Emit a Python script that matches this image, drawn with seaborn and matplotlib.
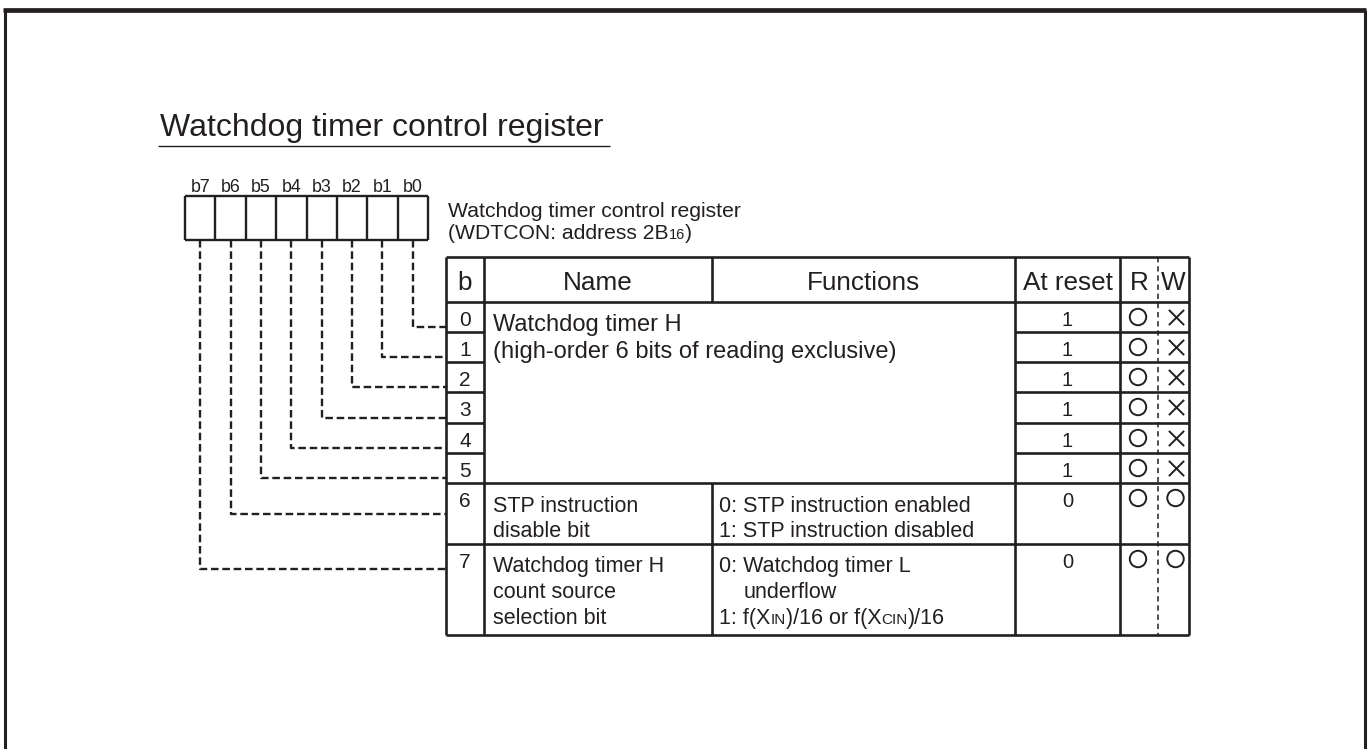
import matplotlib
matplotlib.use("Agg")
import matplotlib.pyplot as plt
import seaborn as sns
import pandas as pd

# ---------------- data ----------------
title = "Watchdog timer control register"
bit_labels = ["b7", "b6", "b5", "b4", "b3", "b2", "b1", "b0"]
reg_name = "Watchdog timer control register"
reg_addr_pre = "(WDTCON: address 2B"
reg_addr_sub = "16"
reg_addr_post = ")"
headers = ["b", "Name", "Functions", "At reset", "R", "W"]
bits = [0, 1, 2, 3, 4, 5, 6, 7]
name_0_5 = ["Watchdog timer H", "(high-order 6 bits of reading exclusive)"]
name_6 = ["STP instruction", "disable bit"]
name_7 = ["Watchdog timer H", "count source", "selection bit"]
func_6 = ["0: STP instruction enabled", "1: STP instruction disabled"]
func_7_line1 = "0: Watchdog timer L"
func_7_line2 = "underflow"
func_7_line3 = [("1: f(X", False), ("IN", True), (")/16 or f(X", False), ("CIN", True), (")/16", False)]
reset_vals = ["1", "1", "1", "1", "1", "1", "0", "0"]
r_marks = ["O", "O", "O", "O", "O", "O", "O", "O"]
w_marks = ["X", "X", "X", "X", "X", "X", "O", "O"]

# ---------------- layout ----------------
W, H = 1369, 749
INK = "#231f20"
sns.set_theme(style="white")
plt.rcParams["font.family"] = ["Liberation Sans", "DejaVu Sans"]

fig = plt.figure(figsize=(W / 100, H / 100), dpi=100)
ax = fig.add_axes([0, 0, 1, 1])
ax.set_xlim(0, W)
ax.set_ylim(H, 0)
ax.axis("off")
renderer = fig.canvas.get_renderer()


def line(xs, ys, lw=1.5, ls="-", color=INK):
    ax.plot(xs, ys, color=color, lw=lw, ls=ls, solid_capstyle="butt",
            dash_capstyle="butt")


def txt(x, y, s, size, ha="left"):
    return ax.text(x, y, s, fontsize=size, ha=ha, va="baseline", color=INK)


def runs(x, y, parts, size, small):
    for s, is_small in parts:
        t = txt(x, y, s, small if is_small else size)
        x += t.get_window_extent(renderer).width


# outer frame
line([3, 1366], [10, 10], lw=3.4)
line([4.5, 4.5], [10, H], lw=2.2)
line([1364.5, 1364.5], [10, H], lw=2.2)

# title
txt(160, 136, title, 23)
line([158, 610], [146, 146], lw=1.0)

# register bit boxes
bx0, bx1, by0, by1 = 185, 428, 196, 240
cw = (bx1 - bx0) / 8
for k, lab in enumerate(bit_labels):
    txt(bx0 + cw * (k + 0.5), 192, lab, 12.8, ha="center")
for k in range(9):
    line([bx0 + cw * k] * 2, [by0, by1], lw=1.7)
line([bx0, bx1], [by0, by0], lw=1.7)
line([bx0, bx1], [by1, by1], lw=1.7)

runs(448, 217, [(reg_name, False)], 15.2, 10.5)
runs(448, 239, [(reg_addr_pre, False), (reg_addr_sub, True), (reg_addr_post, False)], 15.2, 10.5)

# table geometry
xc = [446, 484, 712, 1015, 1120, 1158, 1189]
yr = [257, 302, 332, 362, 392, 423, 453, 483, 544, 635]
TL = 1.9

# header
hx = [(xc[0] + xc[1]) / 2, (xc[1] + xc[2]) / 2, (xc[2] + xc[3]) / 2,
      (xc[3] + xc[4]) / 2, (xc[4] + xc[5]) / 2, (xc[5] + xc[6]) / 2]
for hxi, h in zip(hx, headers):
    txt(hxi, 290, h, 18.8, ha="center")

# outer box
line([xc[0], xc[6]], [yr[0], yr[0]], lw=TL)
line([xc[0], xc[6]], [yr[-1], yr[-1]], lw=TL)
line([xc[0], xc[0]], [yr[0], yr[-1]], lw=TL)
line([xc[6], xc[6]], [yr[0], yr[-1]], lw=TL)
# vertical dividers
line([xc[1], xc[1]], [yr[0], yr[-1]], lw=TL)
line([xc[3], xc[3]], [yr[0], yr[-1]], lw=TL)
line([xc[4], xc[4]], [yr[0], yr[-1]], lw=TL)
line([xc[2], xc[2]], [yr[0], yr[1]], lw=TL)
line([xc[2], xc[2]], [yr[7], yr[-1]], lw=TL)
line([xc[5], xc[5]], [yr[0], yr[-1]], lw=1.1, ls=(0, (3.5, 2.5)))
# horizontal rules
line([xc[0], xc[6]], [yr[1], yr[1]], lw=TL)
for j in range(2, 7):
    line([xc[0], xc[1]], [yr[j], yr[j]], lw=TL)
    line([xc[3], xc[6]], [yr[j], yr[j]], lw=TL)
for j in (7, 8):
    line([xc[0], xc[6]], [yr[j], yr[j]], lw=TL)

# bit numbers and reset values
for i, b in enumerate(bits):
    top = yr[1 + i]
    txt((xc[0] + xc[1]) / 2, top + 24, str(b), 15, ha="center")
    txt((xc[3] + xc[4]) / 2, top + 24, reset_vals[i], 14.5, ha="center")

# names / functions
txt(493, 331, name_0_5[0], 17)
txt(493, 358, name_0_5[1], 17)
for k, s in enumerate(name_6):
    txt(493, 512 + 25 * k, s, 15.5)
for k, s in enumerate(func_6):
    txt(719, 512 + 25 * k, s, 15.5)
for k, s in enumerate(name_7):
    txt(493, 572 + 26 * k, s, 15.5)
txt(719, 572, func_7_line1, 15.5)
txt(744, 598, func_7_line2, 15.5)
runs(719, 624, func_7_line3, 15.5, 11)

# R / W marks
rows_y = [yr[1 + i] + 15 for i in range(8)]
rx = (xc[4] + xc[5]) / 2 - 1
wx = (xc[5] + xc[6]) / 2 + 2
marks = pd.DataFrame({
    "x": [rx] * 8 + [wx] * 8,
    "y": rows_y + rows_y,
    "m": r_marks + w_marks,
})
circ = marks[marks.m == "O"]
cross = marks[marks.m == "X"]
sns.scatterplot(data=circ, x="x", y="y", ax=ax, marker="o", s=140,
                facecolors="none", edgecolor=INK, linewidth=1.4, legend=False)
sns.scatterplot(data=cross, x="x", y="y", ax=ax, marker="x", s=120,
                color=INK, linewidth=1.4, legend=False)

# dashed connectors from bit boxes to table rows
conn_y = [327, 357, 387, 418, 448, 478, 514, 569]
dash = (0, (3.2, 1.6))
for i, b in enumerate(bits):
    k = 7 - b
    x = bx0 + cw * (k + 0.5)
    line([x, x, xc[0]], [by1, conn_y[i], conn_y[i]], lw=1.7, ls=dash)

ax.set_xlim(0, W)
ax.set_ylim(H, 0)
ax.axis("off")
fig.savefig("out.png", dpi=100)
